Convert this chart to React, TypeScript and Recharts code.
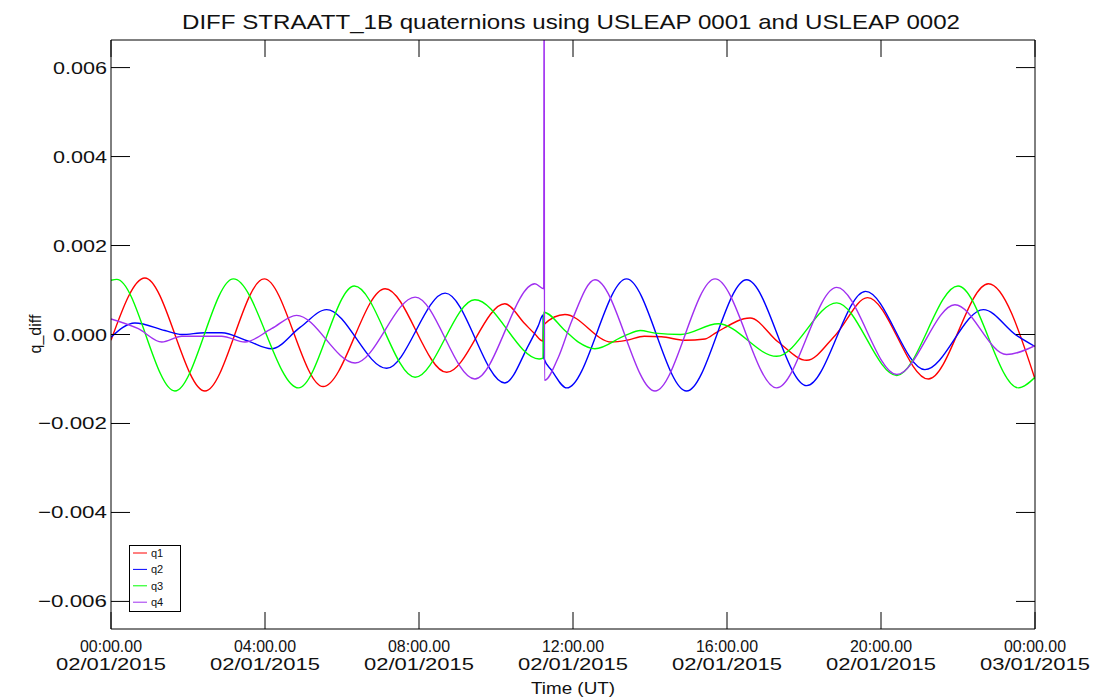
import React from 'react';
import { LineChart, Line, XAxis, YAxis } from 'recharts';

// time in hours since 02/01/2015 00:00 UT, values in units of 1e-3
const q1Points: [number, number][] = [
  [0, -0.13], [0.88, 1.27], [2.44, -1.27], [3.98, 1.25], [5.51, -1.17], [7.12, 1.03],
  [8.72, -0.85], [10.23, 0.69], [10.75, 0.24], [11.0, 0.02], [11.22, -0.15], [11.24, 0.22],
  [11.79, 0.45], [13.0, -0.17], [13.4, -0.13], [13.85, -0.04], [14.3, -0.05], [14.9, -0.13],
  [15.43, -0.1], [15.73, 0.05], [16.6, 0.37], [17.33, -0.17], [18.07, -0.58], [18.81, -0.02],
  [19.65, 0.83], [21.23, -1.0], [22.79, 1.14], [24, -1.0],
];
const q2Points: [number, number][] = [
  [0, -0.06], [0.62, 0.26], [1.4, 0.09], [1.84, 0.0], [2.44, 0.04], [2.87, 0.04], [3.57, -0.15],
  [4.17, -0.32], [4.91, 0.16], [5.6, 0.56], [7.16, -0.76], [8.68, 0.93], [10.23, -1.09],
  [10.84, -0.25], [11.1, 0.2], [11.22, 0.44], [11.24, -0.53], [11.45, -0.81], [11.84, -1.2],
  [13.39, 1.25], [14.95, -1.27], [16.51, 1.23], [18.07, -1.15], [19.6, 0.97], [21.14, -0.79],
  [22.66, 0.56], [23.52, -0.02], [24, -0.27],
];
const q3Points: [number, number][] = [
  [0, 1.22], [0.15, 1.24], [1.66, -1.27], [3.18, 1.25], [4.87, -1.2], [6.32, 1.09], [7.9, -0.96],
  [9.45, 0.78], [11.12, -0.55], [11.22, -0.53], [11.24, 0.5], [11.79, 0.09], [12.14, -0.17],
  [12.57, -0.32], [13.36, -0.02], [13.75, 0.09], [14.13, 0.03], [14.8, 0.0], [15.77, 0.24],
  [17.29, -0.49], [18.85, 0.71], [20.41, -0.92], [22.0, 1.09], [23.57, -1.2], [24, -0.96],
];
const q4Points: [number, number][] = [
  [0, 0.35], [0.71, 0.13], [1.32, -0.17], [1.84, -0.04], [2.44, -0.04], [2.87, -0.04],
  [3.48, -0.17], [4.17, 0.13], [4.82, 0.43], [6.34, -0.64], [7.9, 0.84], [9.45, -1.0],
  [11.01, 1.14], [11.24, 1.03], [11.25, 9.0], [11.26, -1.03], [11.62, -0.51], [11.97, 0.31],
  [12.57, 1.23], [14.13, -1.27], [15.69, 1.25], [17.29, -1.2], [18.85, 1.06], [20.41, -0.9],
  [21.92, 0.67], [23.26, -0.45], [24, -0.25],
];

const seriesNames = ['q1', 'q2', 'q3', 'q4'];
const seriesColors = ['#ff0000', '#0000ff', '#00ff00', '#a030f0'];

const xTicks = [0, 4, 8, 12, 16, 20, 24];
const xTickTimes = ['00:00.00', '04:00.00', '08:00.00', '12:00.00', '16:00.00', '20:00.00', '00:00.00'];
const xTickDates = ['02/01/2015', '02/01/2015', '02/01/2015', '02/01/2015', '02/01/2015', '02/01/2015', '03/01/2015'];
const yTicks = [-0.006, -0.004, -0.002, 0, 0.002, 0.004, 0.006];
const yDomain = [-0.00662, 0.00662];

const title = 'DIFF STRAATT_1B quaternions using USLEAP 0001 and USLEAP 0002';

const toRows = (pts: [number, number][]) => pts.map(([t, v]) => ({ t, v: v / 1000 }));
const series = [q1Points, q2Points, q3Points, q4Points].map(toRows);

const font = '"Liberation Sans", Arial, sans-serif';
const ink = '#111';

const fmtY = (v: number) => {
  if (Math.abs(v) < 1e-9) return '0.000';
  return (v < 0 ? '\u2212' : '') + Math.abs(v).toFixed(3);
};

function BottomTick({ x, y, payload }: any) {
  const i = xTicks.indexOf(payload.value);
  return (
    <g>
      <line x1={x} y1={y} x2={x} y2={y - 17} stroke="#000" />
      <text x={x} y={y + 23} textAnchor="middle" fontSize={16} fontFamily={font} fill={ink}
        textLength={62} lengthAdjust="spacingAndGlyphs">
        {xTickTimes[i]}
      </text>
      <text x={x} y={y + 41} textAnchor="middle" fontSize={16} fontFamily={font} fill={ink}
        textLength={110} lengthAdjust="spacingAndGlyphs">
        {xTickDates[i]}
      </text>
    </g>
  );
}

function TopTick({ x, y }: any) {
  return <line x1={x} y1={y} x2={x} y2={y + 17} stroke="#000" />;
}

function LeftTick({ x, y, payload }: any) {
  const label = fmtY(payload.value);
  return (
    <g>
      <line x1={x} y1={y} x2={x + 19} y2={y} stroke="#000" />
      <text x={x - 4} y={y + 6} textAnchor="end" fontSize={17} fontFamily={font} fill={ink}
        textLength={payload.value < 0 ? 69 : 54} lengthAdjust="spacingAndGlyphs">
        {label}
      </text>
    </g>
  );
}

function RightTick({ x, y }: any) {
  return <line x1={x} y1={y} x2={x - 19} y2={y} stroke="#000" />;
}

export default function App() {
  return (
    <div style={{ position: 'absolute', left: 0, top: 0, width: 1104, height: 697, background: '#fff' }}>
      <LineChart width={1104} height={697} margin={{ top: 39, right: 68, bottom: 0, left: 0 }}>
        <XAxis
          xAxisId="bottom"
          dataKey="t"
          type="number"
          domain={[0, 24]}
          ticks={xTicks}
          allowDataOverflow
          height={68}
          tickSize={0}
          tickMargin={0}
          tickLine={false}
          tick={<BottomTick />}
          axisLine={{ stroke: '#000' }}
        />
        <XAxis
          xAxisId="top"
          orientation="top"
          dataKey="t"
          type="number"
          domain={[0, 24]}
          ticks={xTicks}
          allowDataOverflow
          height={1}
          tickSize={0}
          tickMargin={0}
          tickLine={false}
          tick={<TopTick />}
          axisLine={{ stroke: '#000' }}
        />
        <YAxis
          yAxisId="left"
          type="number"
          domain={yDomain}
          ticks={yTicks}
          allowDataOverflow
          width={111}
          tickSize={0}
          tickMargin={0}
          tickLine={false}
          tick={<LeftTick />}
          axisLine={{ stroke: '#000' }}
        />
        <YAxis
          yAxisId="right"
          orientation="right"
          type="number"
          domain={yDomain}
          ticks={yTicks}
          allowDataOverflow
          width={1}
          tickSize={0}
          tickMargin={0}
          tickLine={false}
          tick={<RightTick />}
          axisLine={{ stroke: '#000' }}
        />
        {series.map((rows, i) => (
          <Line
            key={seriesNames[i]}
            data={rows}
            dataKey="v"
            name={seriesNames[i]}
            xAxisId="bottom"
            yAxisId="left"
            type="monotone"
            stroke={seriesColors[i]}
            strokeWidth={1.4}
            dot={false}
            activeDot={false}
            isAnimationActive={false}
          />
        ))}
      </LineChart>
      <svg
        width={1104}
        height={697}
        style={{ position: 'absolute', left: 0, top: 0, pointerEvents: 'none' }}
      >
        <text x={571} y={29} textAnchor="middle" fontSize={21} fontFamily={font} fill={ink}
          textLength={778} lengthAdjust="spacingAndGlyphs">
          {title}
        </text>
        <text x={573} y={694} textAnchor="middle" fontSize={16} fontFamily={font} fill={ink}
          textLength={84} lengthAdjust="spacingAndGlyphs">
          Time (UT)
        </text>
        <text x={0} y={0} transform="translate(41,334) rotate(-90)" textAnchor="middle"
          fontSize={16} fontFamily={font} fill={ink}>
          q_diff
        </text>
        <rect x={129.5} y={545.5} width={51} height={66} fill="#fff" stroke="#000" />
        {seriesNames.map((name, i) => (
          <g key={name}>
            <line x1={133} x2={147} y1={553 + i * 16.4} y2={553 + i * 16.4} stroke={seriesColors[i]} />
            <text x={151} y={557 + i * 16.4} fontSize={11} fontFamily={font} fill={ink}>
              {name}
            </text>
          </g>
        ))}
      </svg>
    </div>
  );
}
